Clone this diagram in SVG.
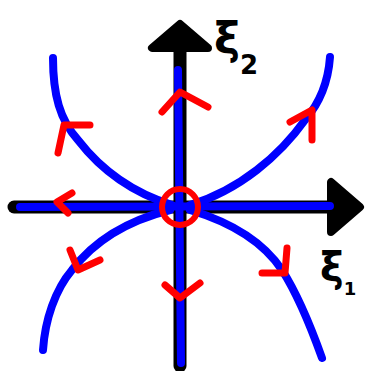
<svg xmlns="http://www.w3.org/2000/svg" width="365" height="371" viewBox="0 0 365 371">
<style>
.ax{stroke:#000;stroke-width:13;fill:none;stroke-linecap:round;stroke-linejoin:round}
.ah{fill:#000;stroke:#000;stroke-width:8;stroke-linejoin:round}
.bl{stroke:#0000ff;stroke-width:8;fill:none;stroke-linecap:round}
.rd{stroke:#ff0000;stroke-width:7;fill:none;stroke-linecap:round;stroke-linejoin:round}
.lb{font-family:"DejaVu Sans",sans-serif;font-weight:bold;fill:#000}
</style>
<rect width="365" height="371" fill="#fff"/>
<g id="axes">
<line class="ax" x1="180" y1="366" x2="180" y2="40"/>
<polygon class="ah" points="180,24 152,48 208,48"/>
<line class="ax" x1="14" y1="207" x2="335" y2="207"/>
<polygon class="ah" points="360,207 331,182 331,232"/>
</g>
<g id="connectors">
<path class="bl" d="M20,207 L330,206"/>
<path class="bl" d="M178,70 L181,363"/>
<path class="bl" d="M53,58 C53,95 60,120 78,140 C105,175 140,195 172,205"/>
<path class="bl" d="M330,57 C328,85 318,105 305,120 C280,155 240,190 190,205"/>
<path class="bl" d="M170,210 C130,220 95,240 72,270 C55,290 45,320 43,350"/>
<path class="bl" d="M190,210 C230,222 262,240 282,270 C298,295 312,330 322,358"/>
</g>
<g id="arrows">
<path class="rd" d="M162,112 L180,92 L208,107"/>
<path class="rd" d="M90,125 L64,125 L58,153"/>
<path class="rd" d="M290,122 L312,110 L312,140"/>
<path class="rd" d="M72,193 L57,202 L68,213"/>
<path class="rd" d="M70,250 L78,270 L100,260"/>
<path class="rd" d="M262,273 L285,273 L287,248"/>
<path class="rd" d="M165,285 L180,298 L200,283"/>
</g>
<g id="origin">
<circle cx="180" cy="207" r="18" fill="none" stroke="#ff0000" stroke-width="6"/>
</g>
<g id="label-xi2">
<text class="lb" x="214" y="54" font-size="44">ξ<tspan font-size="26" dy="20">2</tspan></text>
</g>
<g id="label-xi1">
<text class="lb" x="320" y="281" font-size="40">ξ<tspan font-size="18" dy="14">1</tspan></text>
</g>
</svg>
